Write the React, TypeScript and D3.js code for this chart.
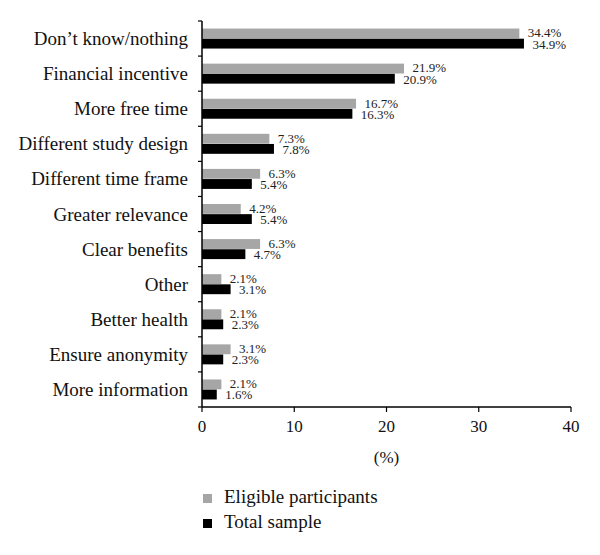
import React from "react";
import * as d3 from "d3";

const categories = [
  "Don’t know/nothing",
  "Financial incentive",
  "More free time",
  "Different study design",
  "Different time frame",
  "Greater relevance",
  "Clear benefits",
  "Other",
  "Better health",
  "Ensure anonymity",
  "More information",
];
const eligible = [34.4, 21.9, 16.7, 7.3, 6.3, 4.2, 6.3, 2.1, 2.1, 3.1, 2.1];
const total = [34.9, 20.9, 16.3, 7.8, 5.4, 5.4, 4.7, 3.1, 2.3, 2.3, 1.6];
const seriesNames = ["Eligible participants", "Total sample"];
const seriesColors = ["#a6a6a6", "#000000"];
const xTicks = [0, 10, 20, 30, 40];

const W = 600;
const H = 555;
const FONT = "'Liberation Serif', 'Times New Roman', serif";

export default function App() {
  const x = d3.scaleLinear().domain([0, 40]).range([202, 571]);
  const y = d3
    .scaleBand<string>()
    .domain(categories)
    .range([21, 407])
    .paddingInner(0.43)
    .paddingOuter(0.215);
  const inner = d3
    .scaleBand<string>()
    .domain(seriesNames)
    .range([0, y.bandwidth()])
    .paddingInner(0.03);
  const series = [eligible, total];
  const step = y.step();

  return (
    <svg
      width={W}
      height={H}
      style={{ position: "absolute", left: 0, top: 0, background: "#fff" }}
      fontFamily={FONT}
    >
      {/* bars */}
      {categories.map((c, i) => (
        <g key={c}>
          {series.map((s, k) => {
            const yy = (y(c) as number) + (inner(seriesNames[k]) as number);
            return (
              <g key={k}>
                <rect
                  x={x(0)}
                  y={yy}
                  width={x(s[i]) - x(0)}
                  height={inner.bandwidth()}
                  fill={seriesColors[k]}
                />
                <text
                  x={x(s[i]) + 8.5}
                  y={yy + inner.bandwidth() - (k === 0 ? 1 : 0)}
                  fontSize={13}
                  fill="#222"
                >
                  {s[i].toFixed(1)}%
                </text>
              </g>
            );
          })}
          <text
            x={188}
            y={(y(c) as number) + y.bandwidth() / 2 + 6.5}
            fontSize={19}
            textAnchor="end"
            fill="#111"
          >
            {c}
          </text>
        </g>
      ))}
      {/* y axis */}
      <line x1={x(0)} x2={x(0)} y1={21} y2={407} stroke="#000" strokeWidth={1.5} />
      {d3.range(categories.length + 1).map((i) => (
        <line
          key={i}
          x1={x(0) - 4}
          x2={x(0)}
          y1={21 + i * step}
          y2={21 + i * step}
          stroke="#000"
          strokeWidth={1.2}
        />
      ))}
      {/* x axis */}
      <line x1={x(0)} x2={x(40)} y1={407} y2={407} stroke="#000" strokeWidth={1.5} />
      {xTicks.map((t) => (
        <g key={t}>
          <line x1={x(t)} x2={x(t)} y1={407} y2={412} stroke="#000" strokeWidth={1.2} />
          <text x={x(t)} y={432} fontSize={17} textAnchor="middle" fill="#111">
            {t}
          </text>
        </g>
      ))}
      <text x={(x(0) + x(40)) / 2} y={463} fontSize={17} textAnchor="middle" fill="#111">
        (%)
      </text>
      {/* legend */}
      {seriesNames.map((n, k) => (
        <g key={n}>
          <rect x={203} y={494 + k * 25} width={9} height={9} fill={seriesColors[k]} />
          <text x={224} y={503 + k * 25} fontSize={19} fill="#111">
            {n}
          </text>
        </g>
      ))}
    </svg>
  );
}
